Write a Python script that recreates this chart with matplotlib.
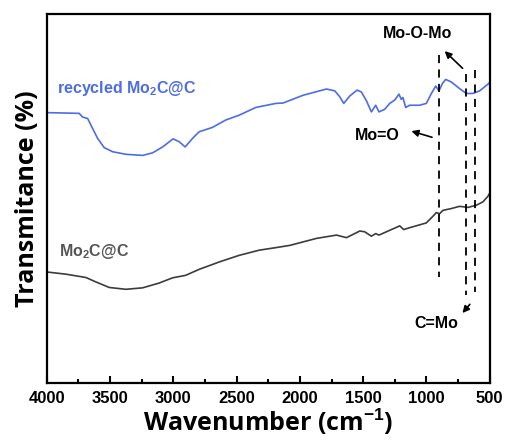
import matplotlib.pyplot as plt
from matplotlib.ticker import MultipleLocator

plt.rcParams['mathtext.fontset'] = 'custom'
plt.rcParams['mathtext.bf'] = 'Liberation Sans:bold'
plt.rcParams['mathtext.rm'] = 'Liberation Sans:bold'

# FTIR spectra (arbitrary transmittance units)
wn_recycled = [4000, 3743, 3716, 3676, 3637, 3597, 3545, 3479, 3374, 3242,
               3163, 3084, 3001, 2953, 2906, 2848, 2796, 2690, 2585, 2480,
               2348, 2190, 2133, 1975, 1790, 1724, 1685, 1653, 1606, 1548,
               1514, 1474, 1435, 1401, 1375, 1330, 1290, 1251, 1217, 1199,
               1186, 1164, 1133, 1054, 1001, 961, 927, 901, 874, 848,
               803, 738, 685, 633, 580, 515, 500]
t_recycled = [73.3, 73.1, 72.1, 71.7, 69.0, 66.3, 63.8, 62.7, 62.0, 61.7,
              62.4, 64.0, 66.2, 65.4, 64.0, 66.3, 68.1, 69.3, 71.3, 72.6,
              74.7, 75.8, 75.9, 78.0, 79.7, 79.2, 77.6, 75.8, 77.8, 79.4,
              78.9, 76.5, 73.5, 75.3, 73.5, 74.2, 75.8, 76.7, 78.3, 76.9,
              77.4, 74.7, 75.3, 75.3, 75.8, 78.5, 80.5, 79.2, 81.2, 82.3,
              81.6, 79.8, 78.5, 78.5, 79.2, 81.0, 81.5]

wn_fresh = [4000, 3848, 3690, 3611, 3506, 3374, 3242, 3111, 3006, 2901,
            2796, 2638, 2480, 2322, 2190, 2080, 1869, 1711, 1632, 1527,
            1488, 1435, 1401, 1375, 1290, 1211, 1180, 1133, 1001, 949,
            922, 896, 870, 803, 738, 672, 606, 554, 515, 500]
t_fresh = [30.1, 29.5, 28.6, 27.4, 25.9, 25.4, 25.8, 27.1, 28.5, 29.2,
           30.8, 32.8, 34.6, 36.0, 36.7, 37.3, 39.2, 40.1, 39.4, 41.2,
           41.0, 39.8, 40.5, 40.1, 41.4, 42.6, 41.6, 42.1, 43.4, 45.2,
           46.2, 45.9, 46.8, 47.3, 47.9, 47.6, 48.2, 49.1, 50.6, 51.5]

# marker lines: wavenumber, top, bottom
mark_wn = [903, 684, 613]
mark_top = [88.9, 83.9, 84.8]
mark_bot = [28.8, 23.8, 24.6]

fig = plt.figure(figsize=(5.07, 4.42), dpi=100)
ax = fig.add_axes([0.092, 0.1335, 0.874, 0.8345])

blue = '#4d6ce6'
gray = '#3c3c3c'
ax.plot(wn_recycled, t_recycled, color=blue, lw=1.2)
ax.plot(wn_fresh, t_fresh, color=gray, lw=1.2)

for w, t0, t1 in zip(mark_wn, mark_top, mark_bot):
    ax.plot([w, w], [t0, t1], color='black', lw=1.3, ls=(0, (4.5, 3.5)))

lab = dict(fontsize=11.5, fontweight='bold', family='Liberation Sans')
ax.text(3919, 79.9, r'recycled Mo$_\mathbf{2}$C@C', color=blue, va='center', ha='left', **lab)
ax.text(3903, 35.7, r'Mo$_\mathbf{2}$C@C', color='#555555', va='center', ha='left', **lab)

arr = dict(arrowstyle='-|>', color='black', lw=1.2, mutation_scale=10)
ax.text(1069, 94.8, 'Mo-O-Mo', ha='center', va='center', **lab)
ax.annotate('', xy=(872, 90.5), xytext=(699, 84.8), arrowprops=arr)
ax.text(1386, 67.2, 'Mo=O', ha='center', va='center', **lab)
ax.annotate('', xy=(1140, 68.5), xytext=(935, 66.4), arrowprops=arr)
ax.text(919, 16.2, 'C=Mo', ha='center', va='center', **lab)
ax.annotate('', xy=(730, 18.4), xytext=(643, 21.9), arrowprops=arr)

ax.set_xlim(4000, 500)
ax.set_ylim(0, 100)
ax.xaxis.set_major_locator(MultipleLocator(500))
ax.xaxis.set_minor_locator(MultipleLocator(250))
ax.tick_params(axis='x', which='both', direction='in', top=False, width=1.5)
ax.tick_params(axis='x', which='major', length=5, pad=6)
ax.tick_params(axis='x', which='minor', length=3)
ax.set_yticks([])
for lbl in ax.get_xticklabels():
    lbl.set_fontweight('bold')
    lbl.set_fontsize(12)
    lbl.set_family('Liberation Sans')
for s in ax.spines.values():
    s.set_linewidth(1.6)

ax.set_xlabel(r'Wavenumber (cm$^{\mathbf{-1}}$)', fontsize=18, fontweight='bold',
              family='Open Sans', labelpad=0)
ax.set_ylabel('Transmitance (%)', fontsize=18, fontweight='bold',
              family='Open Sans', labelpad=5)

fig.savefig('out.png', dpi=100)
